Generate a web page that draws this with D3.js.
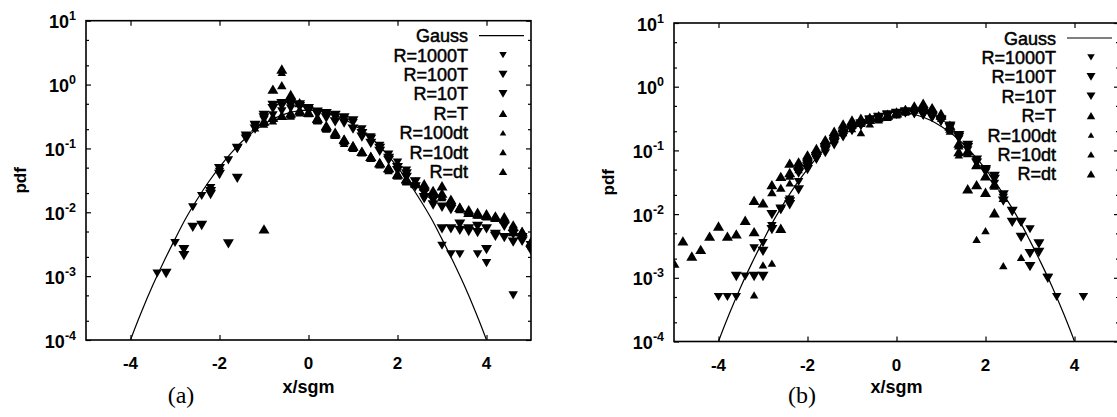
<!DOCTYPE html>
<html>
<head>
<meta charset="utf-8">
<script src="https://cdn.jsdelivr.net/npm/d3@7"></script>
<style>
body { margin: 0; background: #fff; }
text { font-family: "Liberation Sans", Arial, Helvetica, sans-serif; fill: #000; }
</style>
</head>
<body>
<svg id="fig" width="1117" height="417"></svg>
<script>
// tick labels and legend names
const xTicks = [-4, -2, 0, 2, 4];
const yDecades = [1, 0, -1, -2, -3, -4];
const seriesNames = ['R=1000T', 'R=100T', 'R=10T', 'R=T', 'R=100dt', 'R=10dt', 'R=dt'];

// Gauss reference curve
const gaussX = [-4.25, -4, -3.75, -3.5, -3.25, -3, -2.75, -2.5, -2.25, -2, -1.75, -1.5, -1.25, -1, -0.75, -0.5, -0.25, 0,
  0.25, 0.5, 0.75, 1, 1.25, 1.5, 1.75, 2, 2.25, 2.5, 2.75, 3, 3.25, 3.5, 3.75, 4, 4.25];
const gaussY = [0.00003, 0.0001, 0.00028, 0.00072, 0.0017, 0.0038, 0.0082, 0.016, 0.0295, 0.051, 0.083, 0.127, 0.18, 0.24, 0.3, 0.35, 0.385, 0.398,
  0.385, 0.35, 0.3, 0.24, 0.18, 0.127, 0.083, 0.051, 0.0295, 0.016, 0.0082, 0.0038, 0.0017, 0.00072, 0.00028, 0.0001, 0.00003];

// panel (a) series, [x/sgm, pdf]
const a_R1000T = [[-3.4, 0.0011], [-3.0, 0.0033], [-2.6, 0.012], [-2.4, 0.018], [-2.2, 0.024], [-2.0, 0.043], [-1.8, 0.065], [-1.6, 0.098],
  [-1.4, 0.15], [-1.2, 0.22], [-1.0, 0.28], [-0.8, 0.33], [-0.6, 0.38], [-0.4, 0.42], [-0.2, 0.44], [0.0, 0.4], [0.2, 0.36], [0.4, 0.32],
  [0.6, 0.3], [0.8, 0.28], [1.0, 0.25], [1.2, 0.2], [1.4, 0.15], [1.6, 0.11], [1.8, 0.08], [2.0, 0.06], [2.2, 0.045], [2.4, 0.03],
  [2.6, 0.016], [2.8, 0.015], [3.0, 0.003], [3.2, 0.0022], [3.4, 0.0022], [3.8, 0.0022], [4.0, 0.0016], [4.6, 0.0005]];
const a_R100T = [[-3.2, 0.0011], [-2.8, 0.0026], [-2.6, 0.0058], [-2.2, 0.019], [-2.0, 0.039], [-1.6, 0.034], [-1.4, 0.14], [-1.2, 0.2],
  [-1.0, 0.3], [-0.8, 0.42], [-0.6, 0.46], [-0.4, 0.47], [-0.2, 0.45], [0.0, 0.38], [0.2, 0.34], [0.4, 0.3], [0.6, 0.26], [0.8, 0.3],
  [1.0, 0.2], [1.2, 0.17], [1.4, 0.12], [1.6, 0.09], [1.8, 0.07], [2.0, 0.05], [2.2, 0.035], [2.4, 0.025], [2.6, 0.017], [2.8, 0.013],
  [3.0, 0.0055], [3.2, 0.0055], [3.4, 0.0052], [3.6, 0.005], [3.8, 0.0048], [4.0, 0.0026], [4.2, 0.0042], [4.4, 0.004], [4.6, 0.0034],
  [4.8, 0.0035], [5.0, 0.0025]];
const a_R10T = [[-2.8, 0.0021], [-2.4, 0.0062], [-2.2, 0.021], [-2.0, 0.048], [-1.8, 0.0032], [-1.6, 0.1], [-1.4, 0.155], [-1.2, 0.23],
  [-1.0, 0.33], [-0.8, 0.47], [-0.6, 0.5], [-0.4, 0.5], [-0.2, 0.48], [0.0, 0.42], [0.2, 0.37], [0.4, 0.35], [0.6, 0.33], [0.8, 0.25],
  [1.0, 0.27], [1.2, 0.15], [1.4, 0.14], [1.6, 0.1], [1.8, 0.065], [2.0, 0.045], [2.2, 0.04], [2.4, 0.03], [2.6, 0.02], [2.8, 0.016],
  [3.0, 0.012], [3.2, 0.011], [3.4, 0.0065], [3.6, 0.0055], [3.8, 0.006], [4.0, 0.0055], [4.2, 0.0045], [4.4, 0.006], [4.6, 0.0045],
  [4.8, 0.004], [5.0, 0.003]];
const a_RT = [[-1.0, 0.0055], [-0.8, 0.85], [-0.6, 1.75], [-0.4, 0.7], [-0.2, 0.52], [0.0, 0.37], [0.2, 0.3], [0.4, 0.22], [0.6, 0.17],
  [0.8, 0.14], [1.0, 0.11], [1.2, 0.09], [1.4, 0.075], [1.6, 0.06], [1.8, 0.05], [2.0, 0.04], [2.2, 0.034], [2.4, 0.03], [2.6, 0.028],
  [2.8, 0.02], [3.0, 0.026], [3.2, 0.015], [3.4, 0.012], [3.6, 0.01], [3.8, 0.0095], [4.0, 0.009], [4.2, 0.0085], [4.4, 0.0085],
  [4.6, 0.005], [4.8, 0.005], [5.0, 0.0035]];
const a_R100dt = [[-1.2, 0.21], [-1.0, 0.24], [-0.8, 0.27], [-0.6, 1.55], [-0.4, 0.32], [-0.2, 0.36], [0.0, 0.35], [0.2, 0.27], [0.4, 0.2],
  [0.6, 0.16], [0.8, 0.12], [1.0, 0.1], [1.2, 0.085], [1.4, 0.07], [1.6, 0.055], [1.8, 0.045], [2.0, 0.037], [2.2, 0.03], [2.4, 0.027],
  [2.6, 0.024], [2.8, 0.02], [3.0, 0.017], [3.2, 0.014], [3.4, 0.011], [3.6, 0.01], [3.8, 0.009], [4.0, 0.0085], [4.2, 0.008],
  [4.4, 0.0075], [4.6, 0.006], [4.8, 0.0045], [5.0, 0.003]];
const a_R10dt = [[-1.0, 0.26], [-0.8, 0.3], [-0.6, 0.98], [-0.4, 0.34], [-0.2, 0.38], [0.0, 0.36], [0.2, 0.28], [0.4, 0.21], [0.6, 0.17],
  [0.8, 0.13], [1.0, 0.105], [1.2, 0.088], [1.4, 0.072], [1.6, 0.058], [1.8, 0.048], [2.0, 0.038], [2.2, 0.031], [2.4, 0.028],
  [2.6, 0.025], [2.8, 0.021], [3.0, 0.018], [3.2, 0.015], [3.4, 0.0115], [3.6, 0.0105], [3.8, 0.0095], [4.0, 0.009], [4.2, 0.0082],
  [4.4, 0.0078], [4.6, 0.0065], [4.8, 0.0048], [5.0, 0.0032]];
const a_Rdt = [[-1.0, 0.27], [-0.8, 0.31], [-0.6, 0.33], [-0.4, 0.36], [-0.2, 0.4], [0.0, 0.37], [0.2, 0.3], [0.4, 0.23], [0.6, 0.18],
  [0.8, 0.14], [1.0, 0.11], [1.2, 0.09], [1.4, 0.075], [1.6, 0.06], [1.8, 0.05], [2.0, 0.04], [2.2, 0.033], [2.4, 0.029], [2.6, 0.026],
  [2.8, 0.022], [3.0, 0.02], [3.2, 0.016], [3.4, 0.012], [3.6, 0.011], [3.8, 0.01], [4.0, 0.0095], [4.2, 0.0088], [4.4, 0.008],
  [4.6, 0.006], [4.8, 0.005], [5.0, 0.0034]];

// panel (b) series
const b_R1000T = [[-4.0, 0.0005], [-3.8, 0.0005], [-3.6, 0.0005], [-3.4, 0.00105], [-3.2, 0.0029], [-3.0, 0.0035], [-2.8, 0.0065],
  [-2.6, 0.0115], [-2.4, 0.017], [-2.2, 0.032], [-2.0, 0.059], [-1.8, 0.071], [-1.6, 0.09], [-1.4, 0.12], [-1.2, 0.16], [-1.0, 0.2],
  [-0.8, 0.24], [-0.6, 0.28], [-0.4, 0.31], [-0.2, 0.34], [0.0, 0.37], [0.2, 0.38], [0.4, 0.37], [0.6, 0.35], [0.8, 0.32], [1.0, 0.28],
  [1.2, 0.22], [1.4, 0.15], [1.6, 0.1], [1.8, 0.065], [2.0, 0.045], [2.2, 0.03], [2.4, 0.018], [2.6, 0.011], [2.8, 0.0074],
  [3.0, 0.0058], [3.2, 0.0034], [3.4, 0.001], [3.6, 0.0005], [4.2, 0.0005]];
const b_R100T = [[-3.6, 0.00105], [-3.2, 0.00105], [-3.0, 0.0026], [-2.8, 0.0057], [-2.6, 0.012], [-2.4, 0.014], [-2.2, 0.024],
  [-2.0, 0.05], [-1.8, 0.075], [-1.6, 0.1], [-1.4, 0.13], [-1.2, 0.17], [-1.0, 0.21], [-0.8, 0.25], [-0.6, 0.29], [-0.4, 0.32],
  [-0.2, 0.35], [0.0, 0.37], [0.2, 0.39], [0.4, 0.38], [0.6, 0.36], [0.8, 0.33], [1.0, 0.29], [1.2, 0.23], [1.4, 0.17], [1.6, 0.11],
  [1.8, 0.07], [2.0, 0.047], [2.2, 0.039], [2.4, 0.02], [2.6, 0.0074], [2.8, 0.0043], [3.0, 0.0024], [3.2, 0.0025], [3.4, 0.00098]];
const b_R10T = [[-3.0, 0.00105], [-2.8, 0.0098], [-2.4, 0.0155], [-2.2, 0.044], [-2.0, 0.055], [-1.8, 0.08], [-1.6, 0.11], [-1.4, 0.14],
  [-1.2, 0.18], [-1.0, 0.22], [-0.8, 0.26], [-0.6, 0.3], [-0.4, 0.33], [-0.2, 0.36], [0.0, 0.38], [0.2, 0.4], [0.4, 0.39], [0.6, 0.37],
  [0.8, 0.34], [1.0, 0.3], [1.2, 0.24], [1.4, 0.16], [1.6, 0.12], [1.8, 0.063], [2.0, 0.05], [2.2, 0.035], [2.4, 0.016], [2.6, 0.011],
  [2.8, 0.0074], [3.0, 0.0015], [3.2, 0.0034]];
const b_RT = [[-5.0, 0.0017], [-4.8, 0.0038], [-4.6, 0.0022], [-4.4, 0.0028], [-4.2, 0.0045], [-4.0, 0.0065], [-3.8, 0.0045],
  [-3.6, 0.0049], [-3.4, 0.008], [-3.2, 0.0165], [-3.0, 0.015], [-2.8, 0.029], [-2.6, 0.039], [-2.4, 0.063], [-2.2, 0.066], [-2.0, 0.085],
  [-1.8, 0.107], [-1.6, 0.148], [-1.4, 0.2], [-1.2, 0.26], [-1.0, 0.3], [-0.8, 0.32], [-0.6, 0.33], [-0.4, 0.35], [-0.2, 0.37],
  [0.0, 0.4], [0.2, 0.44], [0.4, 0.5], [0.6, 0.55], [0.8, 0.47], [1.0, 0.38], [1.2, 0.25], [1.4, 0.096], [1.6, 0.025], [1.8, 0.029],
  [2.0, 0.022], [2.2, 0.0105]];
const b_R100dt = [[-3.2, 0.00054], [-3.0, 0.0016], [-2.8, 0.0017], [-2.6, 0.006], [-2.4, 0.031], [-2.2, 0.05], [-2.0, 0.07], [-1.8, 0.09],
  [-1.6, 0.12], [-1.4, 0.15], [-1.2, 0.19], [-1.0, 0.22], [-0.8, 0.19], [-0.6, 0.26], [-0.4, 0.3], [-0.2, 0.33], [0.0, 0.36], [0.2, 0.4],
  [0.4, 0.43], [0.6, 0.45], [0.8, 0.4], [1.0, 0.32], [1.2, 0.2], [1.4, 0.085], [1.8, 0.004], [2.0, 0.0055], [2.2, 0.0103],
  [2.4, 0.00155], [2.8, 0.0021]];
const b_R10dt = [[-2.8, 0.022], [-2.6, 0.026], [-2.4, 0.04], [-2.2, 0.055], [-2.0, 0.075], [-1.8, 0.095], [-1.6, 0.13], [-1.4, 0.17],
  [-1.2, 0.21], [-1.0, 0.25], [-0.8, 0.27], [-0.6, 0.3], [-0.4, 0.32], [-0.2, 0.35], [0.0, 0.38], [0.2, 0.42], [0.4, 0.46], [0.6, 0.5],
  [0.8, 0.43], [1.0, 0.35], [1.2, 0.22], [1.4, 0.12], [1.6, 0.09], [1.8, 0.06], [2.0, 0.04], [2.2, 0.028], [2.4, 0.018]];
const b_Rdt = [[-3.2, 0.0053], [-2.6, 0.006], [-2.4, 0.045], [-2.2, 0.06], [-2.0, 0.08], [-1.8, 0.1], [-1.6, 0.14], [-1.4, 0.18],
  [-1.2, 0.23], [-1.0, 0.27], [-0.8, 0.29], [-0.6, 0.31], [-0.4, 0.34], [-0.2, 0.36], [0.0, 0.39], [0.2, 0.43], [0.4, 0.48], [0.6, 0.52],
  [0.8, 0.45], [1.0, 0.36], [1.2, 0.24], [1.4, 0.13], [1.6, 0.1], [1.8, 0.06], [2.0, 0.04], [2.2, 0.03]];

// marker style per series: down or up triangle, width in plot and in key
const markDown = [true, true, true, false, false, false, false];
const markW = [9.5, 11, 11, 11, 8.5, 9.5, 11];
const keyW = [7.5, 9, 9, 8.5, 6.5, 7.5, 8.5];

const svg = d3.select('#fig');

function tri(w, down) {
  const h = w * 0.85;
  return down
    ? `M${-w / 2},${-h / 2}L${w / 2},${-h / 2}L0,${h / 2}Z`
    : `M${-w / 2},${h / 2}L${w / 2},${h / 2}L0,${-h / 2}Z`;
}

function drawPanel(p) {
  const x = d3.scaleLinear().domain([-5, 5]).range([p.left, p.right]);
  const y = d3.scaleLog().domain([1e-4, 10]).range([p.bottom, p.top]);
  const g = svg.append('g');

  const clipId = 'clip' + p.name;
  svg.append('clipPath').attr('id', clipId)
    .append('rect')
    .attr('x', p.left).attr('y', p.top)
    .attr('width', p.right - p.left).attr('height', p.bottom - p.top);

  // minor y ticks at 2 and 5 of each decade
  const minor = [];
  for (let e = -4; e < 1; e++) { minor.push(2 * Math.pow(10, e), 5 * Math.pow(10, e)); }

  const axes = [
    [d3.axisLeft(y).tickValues(yDecades.map(e => Math.pow(10, e))).tickSize(-5), `translate(${p.left},0)`],
    [d3.axisLeft(y).tickValues(minor).tickSize(-3), `translate(${p.left},0)`],
    [d3.axisRight(y).tickValues(yDecades.map(e => Math.pow(10, e))).tickSize(-5), `translate(${p.right},0)`],
    [d3.axisRight(y).tickValues(minor).tickSize(-3), `translate(${p.right},0)`],
    [d3.axisBottom(x).tickValues(xTicks).tickSize(-5), `translate(0,${p.bottom})`],
    [d3.axisTop(x).tickValues(xTicks).tickSize(-5), `translate(0,${p.top})`]
  ];
  axes.forEach(([ax, tr]) => {
    const a = g.append('g').attr('transform', tr)
      .call(ax.tickSizeOuter(0).tickFormat(''));
    a.select('.domain').remove();
    a.selectAll('line').attr('stroke', '#000').attr('stroke-width', 1.2);
  });

  g.append('rect')
    .attr('x', p.left).attr('y', p.top)
    .attr('width', p.right - p.left).attr('height', p.bottom - p.top)
    .attr('fill', 'none').attr('stroke', '#000').attr('stroke-width', 1.6);

  // y tick labels 10^e
  yDecades.forEach(e => {
    const t = g.append('text')
      .attr('x', p.left - 10).attr('y', y(Math.pow(10, e)) + 7.5)
      .attr('text-anchor', 'end')
      .style('font-size', '18px').style('font-weight', 'bold');
    t.append('tspan').text('10');
    t.append('tspan').attr('dy', -8).style('font-size', '12.5px').text(e);
  });

  // x tick labels
  xTicks.forEach(v => {
    g.append('text')
      .attr('x', x(v)).attr('y', p.bottom + 29)
      .attr('text-anchor', 'middle')
      .style('font-size', '17px').style('font-weight', 'bold')
      .text(v);
  });

  g.append('text')
    .attr('x', (p.left + p.right) / 2).attr('y', 393)
    .attr('text-anchor', 'middle')
    .style('font-size', '18px').style('font-weight', 'bold')
    .text('x/sgm');

  g.append('text')
    .attr('transform', `translate(${p.left - 60},${(p.top + p.bottom) / 2}) rotate(-90)`)
    .attr('text-anchor', 'middle')
    .style('font-size', '17px').style('font-weight', 'bold')
    .text('pdf');

  g.append('text')
    .attr('x', p.tagX).attr('y', 403)
    .attr('text-anchor', 'middle')
    .style('font-family', '"Liberation Serif", "Times New Roman", serif')
    .style('font-size', '24px')
    .text(p.tag);

  // Gauss curve
  const line = d3.line()
    .x(i => x(gaussX[i]))
    .y(i => y(gaussY[i]))
    .curve(d3.curveCatmullRom);
  g.append('path')
    .attr('clip-path', `url(#${clipId})`)
    .attr('d', line(d3.range(gaussX.length)))
    .attr('fill', 'none').attr('stroke', '#000').attr('stroke-width', 1.2);

  // data points
  p.series.forEach((s, k) => {
    g.append('g').attr('clip-path', `url(#${clipId})`)
      .selectAll('path')
      .data(s)
      .enter()
      .append('path')
      .attr('transform', d => `translate(${x(d[0])},${y(d[1])})`)
      .attr('d', tri(markW[k], markDown[k]))
      .attr('fill', '#000');
  });

  // key: regular face, slightly thickened like the scanned print
  const keyText = p.right - 63;
  const keyMark = p.right - 28;
  const base = i => p.top + 21.5 + 19.4 * i;
  const keyLabel = (txt, i) => g.append('text').attr('x', keyText).attr('y', base(i))
    .attr('text-anchor', 'end').style('font-size', '18px')
    .attr('stroke', '#000').attr('stroke-width', 0.5)
    .text(txt);
  keyLabel('Gauss', 0);
  g.append('line')
    .attr('x1', p.right - 52).attr('x2', p.right - 7)
    .attr('y1', base(0) - 6.5).attr('y2', base(0) - 6.5)
    .attr('stroke', '#000').attr('stroke-width', 1.2);
  seriesNames.forEach((n, k) => {
    keyLabel(n, k + 1);
    g.append('path')
      .attr('transform', `translate(${keyMark},${base(k + 1) - 6.5})`)
      .attr('d', tri(keyW[k], markDown[k]))
      .attr('fill', '#000');
  });
}

drawPanel({
  name: 'a', tag: '(a)', tagX: 181,
  left: 86, right: 531, top: 20.7, bottom: 340,
  series: [a_R1000T, a_R100T, a_R10T, a_RT, a_R100dt, a_R10dt, a_Rdt]
});
drawPanel({
  name: 'b', tag: '(b)', tagX: 802,
  left: 674, right: 1119, top: 23, bottom: 341.5,
  series: [b_R1000T, b_R100T, b_R10T, b_RT, b_R100dt, b_R10dt, b_Rdt]
});
</script>
</body>
</html>
